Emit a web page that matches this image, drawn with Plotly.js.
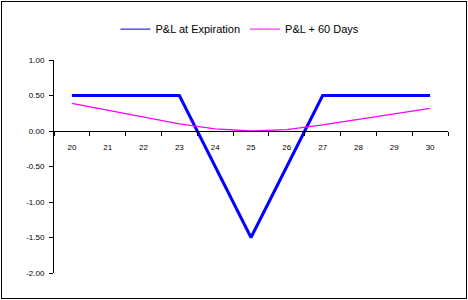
<!DOCTYPE html>
<html><head><meta charset="utf-8">
<script src="https://cdn.plot.ly/plotly-3.0.1.min.js"></script>
<style>html,body{margin:0;padding:0;background:#fff;}#wrap{position:relative;width:468px;height:300px;}
#frame{position:absolute;left:1px;top:1px;width:464px;height:296px;border:1px solid #000;pointer-events:none;}</style>
</head><body><div id="wrap"><div id="chart" style="width:468px;height:300px;"></div><div id="frame"></div></div>
<script>
var categories = ["20","21","22","23","24","25","26","27","28","29","30"];
var expiration = [0.5,0.5,0.5,0.5,-0.5,-1.5,-0.5,0.5,0.5,0.5,0.5];
var days60 = [0.39,0.29,0.19,0.10,0.03,0.0,0.02,0.085,0.165,0.245,0.32];
var yTickVals = [-2,-1.5,-1,-0.5,0,0.5,1];
var yTickText = ["-2.00","-1.50","-1.00","-0.50","0.00","0.50","1.00"];
var names = ["P&L at Expiration","P&L + 60 Days"];

var traces = [
  {x:categories,y:expiration,type:'scatter',mode:'lines',line:{color:'#0000FF',width:3},showlegend:false,hoverinfo:'skip'},
  {x:categories,y:days60,type:'scatter',mode:'lines',line:{color:'#FF00FF',width:1.3},showlegend:false,hoverinfo:'skip'},
  {x:[null],y:[null],type:'scatter',mode:'lines',name:names[0],line:{color:'#0000CC',width:1}},
  {x:[null],y:[null],type:'scatter',mode:'lines',name:names[1],line:{color:'#FF00FF',width:1}}
];
var layout = {
  width:468,height:300,
  margin:{l:54,r:20,t:60,b:27},
  paper_bgcolor:'#fff',plot_bgcolor:'#fff',
  font:{family:'"Liberation Sans", Arial, sans-serif',color:'#000',size:8},
  showlegend:true,
  legend:{orientation:'h',x:0.472,xanchor:'center',y:1.145,yanchor:'middle',font:{size:11},traceorder:'normal',itemwidth:30},
  xaxis:{type:'category',range:[-0.5,10.5],tickson:'boundaries',ticks:'outside',ticklen:4,tickcolor:'#000',
    showline:true,linecolor:'#000',linewidth:1,showgrid:false,zeroline:false,anchor:'free',position:2/3,
    tickfont:{size:8},ticklabelstandoff:8,fixedrange:true},
  yaxis:{range:[-2,1],tickvals:yTickVals,ticktext:yTickText,ticks:'outside',ticklen:4,tickcolor:'#000',
    showline:true,linecolor:'#000',linewidth:1,showgrid:false,zeroline:false,tickfont:{size:8},ticklabelstandoff:3,fixedrange:true}
};
Plotly.newPlot('chart',traces,layout,{displayModeBar:false,staticPlot:true});
</script></body></html>
